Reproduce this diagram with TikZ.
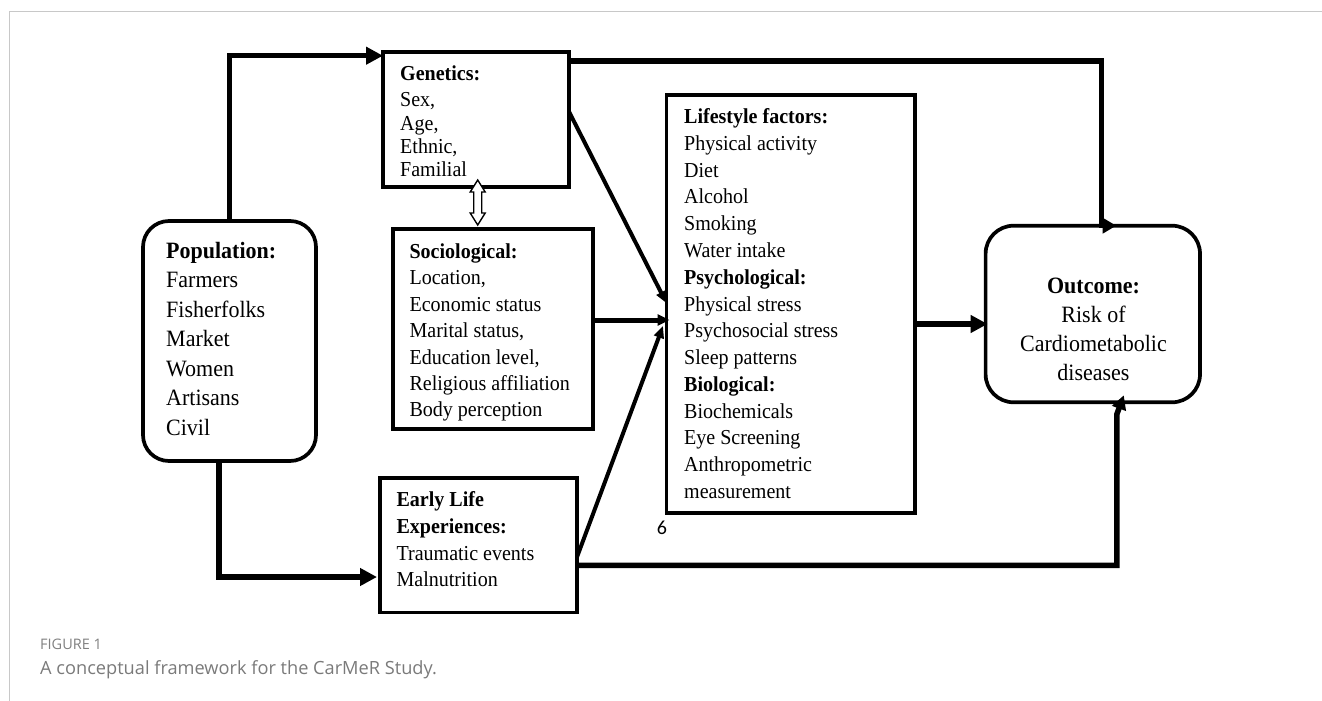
\documentclass[tikz,border=0pt]{standalone}
\usepackage{fontspec}
\setmainfont{Liberation Serif}[FakeStretch=0.94]
\newfontfamily\capfont{Open Sans}
\newfontfamily\sixfont{Carlito}
\usetikzlibrary{arrows.meta,calc}
\definecolor{framegray}{HTML}{C8C8C8}
\definecolor{capgray}{HTML}{7A7A7A}
\definecolor{capgrayb}{HTML}{808080}
\begin{document}
\begin{tikzpicture}[x=1pt,y=-1pt,
  box/.style={draw, line width=3.7pt, anchor=north west, inner sep=0pt, outer sep=0pt},
  rbox/.style={box, rounded corners=26pt},
  lbl/.style={anchor=north west, inner sep=0pt, align=left},
  big/.style={line width=5.5pt, -{Triangle[length=17pt,width=17pt]}},
  mid/.style={line width=5pt, -{Triangle[length=12pt,width=11pt]}},
  thin/.style={line width=4pt, -{Triangle[length=12pt,width=10pt]}},
  hollow/.style={draw, line width=1.4pt, fill=white, line join=miter}]
\useasboundingbox (0,0) rectangle (1322,701);
% frame
\draw[framegray, line width=1.1pt] (9.3,701) -- (9.3,11.7) -- (1322,11.7);
% boxes
\node[box, minimum width=186pt, minimum height=135pt] (gen) at (383,52) {};
\node[rbox, minimum width=173pt, minimum height=240pt] (pop) at (143,221) {};
\node[box, minimum width=200pt, minimum height=200pt] (soc) at (393,229) {};
\node[box, minimum width=197pt, minimum height=134.5pt] (early) at (380,478) {};
\node[box, minimum width=248.5pt, minimum height=418.3pt] (life) at (666.5,95) {};
\node[rbox, rounded corners=28pt, minimum width=214.4pt, minimum height=176.6pt] (out) at (985.6,225.7) {};
% texts
\node[lbl, font=\fontsize{21.3}{23.3}\selectfont] (gent) at (400,62)
  {\rule{0pt}{18pt}\textbf{Genetics:}\\[3.4pt] Sex,\\ Age,\\ Ethnic,\\ Familial};
\node[lbl, font=\fontsize{23.4}{29.45}\selectfont] (popt) at (166,238.3)
  {\rule{0pt}{20pt}\textbf{Population:}\\ Farmers\\ Fisherfolks\\ Market\\ Women\\ Artisans\\ Civil};
\node[lbl, font=\fontsize{21.3}{26.4}\selectfont] (soct) at (409.4,240.3)
  {\rule{0pt}{18pt}\textbf{Sociological:}\\ Location,\\ Economic status\\ Marital status,\\ Education level,\\ Religious affiliation\\ Body perception};
\node[lbl, font=\fontsize{21.3}{26.67}\selectfont] (earlyt) at (396.4,488.7)
  {\rule{0pt}{18pt}\textbf{Early Life}\\ \textbf{Experiences:}\\ Traumatic events\\ Malnutrition};
\node[lbl, font=\fontsize{21.3}{26.79}\selectfont] (lifet) at (684,105.3)
  {\rule{0pt}{18pt}\textbf{Lifestyle factors:}\\ Physical activity\\ Diet\\ Alcohol\\ Smoking\\ Water intake\\ \textbf{Psychological:}\\ Physical stress\\ Psychosocial stress\\ Sleep patterns\\ \textbf{Biological:}\\ Biochemicals\\ Eye Screening\\ Anthropometric\\ measurement};
\node[anchor=north, inner sep=0pt, align=center, font=\fontsize{23.4}{28.9}\selectfont] (outt) at (1093.5,273.3)
  {\rule{0pt}{20pt}\textbf{Outcome:}\\ Risk of\\ Cardiometabolic\\ diseases};
\node[inner sep=0pt, font=\sixfont\fontsize{20}{22}\selectfont] (six) at (662,527.5) {6};
% caption
\node[anchor=base west, inner sep=0pt, text=capgrayb, font=\capfont\fontsize{14.5}{16}\selectfont] (figlbl) at (40,649.3) {FIGURE 1};
\node[anchor=base west, inner sep=0pt, text=capgray, font=\capfont\fontsize{18.2}{21}\selectfont] (figcap) at (40,674) {A conceptual framework for the CarMeR Study.};
% connectors
\draw[big] (pop.north) |- ([yshift=-3.7pt]gen.north west);
\coordinate (gobend) at ([xshift=8.5pt]out.north);
\draw[line width=5.5pt, -{Triangle[length=13.7pt,width=15pt]}] ([yshift=-9pt]gen.north east) -| (gobend) -- ([xshift=15pt]gobend);
\draw[thin] ([yshift=7.8pt]gen.east) -- ([yshift=1pt]life.west);
\coordinate (sl) at ([yshift=9pt]soc.east);
\draw[mid] (sl) -- ([xshift=3pt]sl -| life.west);
\draw[thin] ([yshift=-11.75pt]early.east) -- ([xshift=-3.5pt,yshift=-21.85pt]life.west);
\coordinate (lo) at ([yshift=-19.85pt]life.east);
\draw[big] (lo) -- ([xshift=2pt]lo -| out.west);
\draw[big] ([xshift=-10.3pt]pop.south) |- ([xshift=-3pt,yshift=-31.75pt]early.west);
\coordinate (eo) at ([yshift=-20pt]early.east);
\coordinate (eobend) at ([xshift=24pt,yshift=-12pt]out.south);
\coordinate (eotip) at ([xshift=31pt,yshift=7pt]out.south);
\draw[line width=5.5pt, -{Triangle[length=14pt,width=14pt]}] (eo) -| (eobend) -- (eotip);
% hollow double arrow between genetics and sociological
\begin{scope}[shift={(477.7,202.5)}]
\draw[hollow] (0,-22.5) -- (7.5,-10.5) -- (4,-10.5) -- (4,10.5) -- (7.5,10.5) -- (0,22.5)
  -- (-7.5,10.5) -- (-4,10.5) -- (-4,-10.5) -- (-7.5,-10.5) -- cycle;
\end{scope}
\end{tikzpicture}
\end{document}
